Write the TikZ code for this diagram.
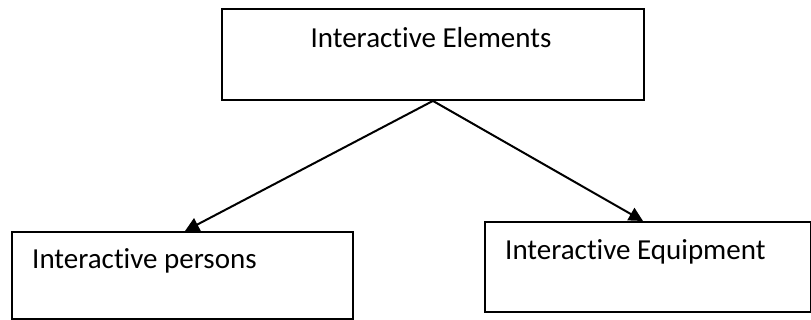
\documentclass[tikz,border=0pt]{standalone}
\usepackage{fontspec}
\setmainfont{Carlito}[Ligatures=NoCommon]
\usetikzlibrary{arrows.meta}
\begin{document}
\begin{tikzpicture}[x=1pt,y=-1pt,
  box/.style={draw=black,line width=1.9pt,rectangle,inner sep=0pt,anchor=north west},
  lbl/.style={inner sep=0pt,anchor=base west,font=\fontsize{29}{34}\selectfont},
  conn/.style={line width=2pt,-{Triangle[length=14pt,width=14pt]}}]
\useasboundingbox (0,0) rectangle (811,320);
\node[box,minimum width=422pt,minimum height=91pt] (top) at (221,8) {};
\node[box,minimum width=341pt,minimum height=87pt] (lbox) at (11,231) {};
\node[box,minimum width=326pt,minimum height=90pt] (rbox) at (484,221) {};
\node[lbl,anchor=base] (ttop) at (431,48) {Interactive Elements};
\node[lbl] (tl) at (32,269) {Interactive persons};
\node[lbl] (tr) at (505,260) {Interactive Equipment};
\draw[conn] (top.south) -- ([xshift=174pt]lbox.north west);
\draw[conn] (top.south) -- ([xshift=159pt]rbox.north west);
\end{tikzpicture}
\end{document}
